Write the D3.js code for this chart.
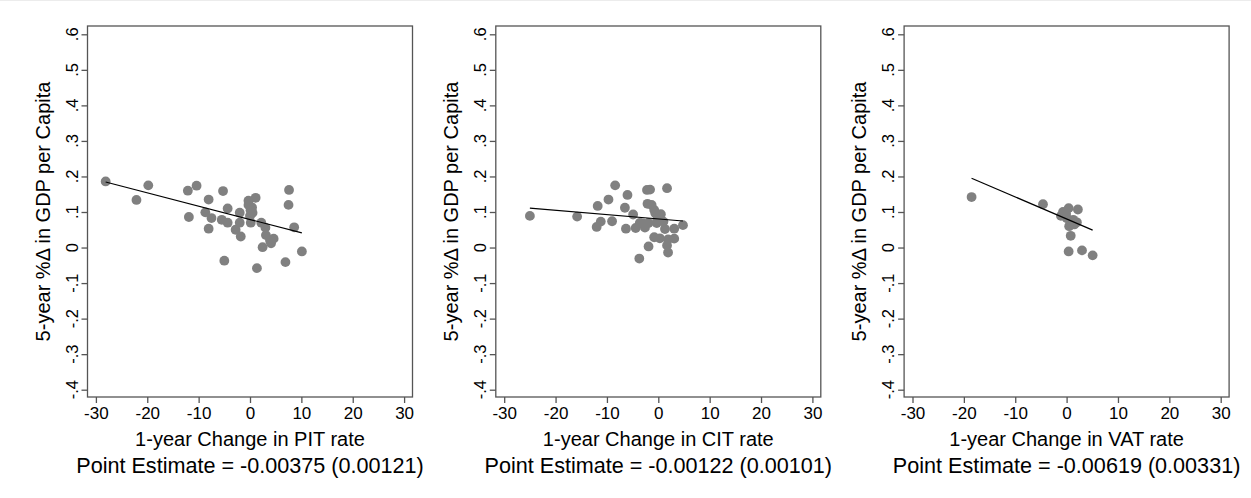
<!DOCTYPE html>
<html>
<head>
<meta charset="utf-8">
<script src="https://cdn.jsdelivr.net/npm/d3@7"></script>
<style>
  html, body { margin: 0; padding: 0; background: #fff; }
  svg { display: block; font-family: "Liberation Sans", Arial, Helvetica, sans-serif; }
</style>
</head>
<body>
<svg id="chart" width="1251" height="498"></svg>
<script>
// Tax-rate changes (percentage points) vs 5-year GDP per capita growth
const pitX = [-28.1, -22.1, -19.8, -12.1, -10.4, -11.9, -8.05, -8.7, -8.05, -7.5, -5.25, -5.5, -4.35, -4.35, -5.0,
              -2.0, -2.0, -2.8, -1.8, -0.3, -0.3, 0.4, 0.5, 1.1, 0.0, 0.15, 2.2, 3.0, 3.1, 2.45, 4.1, 4.6, 1.35,
              6.9, 7.6, 7.5, 8.6, 10.1, 3.9, 0.1];
const pitY = [0.186, 0.134, 0.175, 0.160, 0.174, 0.086, 0.135, 0.099, 0.053, 0.083, 0.159, 0.078, 0.110, 0.070, -0.037,
              0.098, 0.070, 0.050, 0.031, 0.132, 0.120, 0.113, 0.098, 0.140, 0.089, 0.070, 0.070, 0.056, 0.035, 0.001, 0.012, 0.025, -0.058,
              -0.041, 0.162, 0.120, 0.057, -0.011, 0.020, 0.105];

const citX = [-25.0, -15.8, -11.8, -12.0, -11.2, -9.7, -8.4, -9.0, -6.0, -6.5, -6.3, -4.9, -4.4, -3.7, -3.6, -3.0, -2.6,
              -2.2, -1.6, -2.1, -1.3, -1.9, -0.8, -0.6, 0.5, -1.9, -0.3, -0.8, 0.3, -0.2, 1.0, 1.3, 1.7, 1.7, 1.9, 1.9,
              3.1, 3.1, 4.8];
const citY = [0.089, 0.087, 0.117, 0.058, 0.073, 0.135, 0.175, 0.074, 0.148, 0.112, 0.053, 0.093, 0.055, -0.031, 0.069, 0.068, 0.056,
              0.162, 0.163, 0.123, 0.120, 0.003, 0.106, 0.097, 0.094, 0.069, 0.069, 0.029, 0.026, 0.078, 0.073, 0.052, 0.167, 0.006, -0.014, 0.023,
              0.053, 0.025, 0.063];

const vatX = [-18.5, -4.6, -1.1, -0.7, 0.4, 2.2, 0.0, 0.7, 2.0, 0.5, 0.8, 0.4, 3.0, 5.07, 1.3, -0.1, 1.5];
const vatY = [0.142, 0.122, 0.089, 0.100, 0.111, 0.107, 0.083, 0.073, 0.071, 0.060, 0.033, -0.011, -0.008, -0.022, 0.078, 0.095, 0.065];

// Fitted OLS lines: slope from the reported point estimates
const taxNames   = ["PIT", "CIT", "VAT"];
const slopes     = [-0.00375, -0.00122, -0.00619];
const stdErrors  = ["0.00121", "0.00101", "0.00331"];
const intercepts = [0.079, 0.0805, 0.0805];

const xTicks = [-30, -20, -10, 0, 10, 20, 30];
const xTickLabels = ["-30", "-20", "-10", "0", "10", "20", "30"];
const yTicks = [-0.4, -0.3, -0.2, -0.1, 0, 0.1, 0.2, 0.3, 0.4, 0.5, 0.6];
const yTickLabels = ["-.4", "-.3", "-.2", "-.1", "0", ".1", ".2", ".3", ".4", ".5", ".6"];

const panels = [
  { xs: pitX, ys: pitY },
  { xs: citX, ys: citY },
  { xs: vatX, ys: vatY }
];

const svg = d3.select("#chart");
const frameW = 325, frameTop = 26, frameBottom = 397;
const panelStep = 408.3, firstLeft = 87.5;
const axisColor = "#555";
const dotColor = "#808080";

// faint rule along the top edge
svg.append("line").attr("x1", 0).attr("x2", 1251).attr("y1", 0.5).attr("y2", 0.5)
  .attr("stroke", "#ececec").attr("stroke-width", 1);

panels.forEach((p, i) => {
  const left = firstLeft + i * panelStep;
  const right = left + frameW;
  const x = d3.scaleLinear().domain([-30, 30]).range([left + 8.4, right - 8.4]);
  const y = d3.scaleLinear().domain([-0.4, 0.6]).range([389.7, 34.3]);
  const g = svg.append("g");

  // plot frame
  g.append("rect")
    .attr("x", left).attr("y", frameTop)
    .attr("width", frameW).attr("height", frameBottom - frameTop)
    .attr("fill", "none").attr("stroke", axisColor).attr("stroke-width", 1.3);

  // y axis ticks (labels rotated)
  const yAxis = d3.axisLeft(y).tickValues(yTicks).tickSize(6).tickFormat("");
  const ya = g.append("g").attr("transform", `translate(${left},0)`).call(yAxis);
  ya.select(".domain").remove();
  ya.selectAll(".tick line").attr("stroke", axisColor).attr("stroke-width", 1.3);
  yTicks.forEach((v, k) => {
    g.append("text")
      .attr("transform", `translate(${left - 10},${y(v)}) rotate(-90)`)
      .attr("text-anchor", "middle")
      .attr("font-size", 16.5).attr("fill", "#000")
      .text(yTickLabels[k]);
  });

  // x axis
  const xAxis = d3.axisBottom(x).tickValues(xTicks).tickSize(6)
    .tickFormat((d, k) => xTickLabels[k]);
  const xa = g.append("g").attr("transform", `translate(0,${frameBottom})`).call(xAxis);
  xa.select(".domain").remove();
  xa.selectAll(".tick line").attr("stroke", axisColor).attr("stroke-width", 1.3);
  xa.selectAll(".tick text")
    .attr("font-size", 17).attr("font-family", "Liberation Sans, Arial, sans-serif")
    .attr("fill", "#000").attr("dy", null).attr("y", 21.5);

  // points
  const pts = p.xs.map((v, k) => [v, p.ys[k]]);
  g.append("g").selectAll("circle").data(pts).join("circle")
    .attr("cx", d => x(d[0])).attr("cy", d => y(d[1])).attr("r", 4.9)
    .attr("fill", dotColor);

  // fitted line across the observed range
  const [x0, x1] = d3.extent(p.xs);
  const fit = v => intercepts[i] + slopes[i] * v;
  g.append("line")
    .attr("x1", x(x0)).attr("y1", y(fit(x0)))
    .attr("x2", x(x1)).attr("y2", y(fit(x1)))
    .attr("stroke", "#000").attr("stroke-width", 1.2);

  // titles
  const cx = left + frameW / 2;
  g.append("text")
    .attr("transform", `translate(${left - 38},${(frameTop + frameBottom) / 2}) rotate(-90)`)
    .attr("text-anchor", "middle").attr("font-size", 20).attr("fill", "#000")
    .text("5-year %\u0394 in GDP per Capita");
  g.append("text")
    .attr("x", cx).attr("y", 446)
    .attr("text-anchor", "middle").attr("font-size", 20).attr("fill", "#000")
    .text(`1-year Change in ${taxNames[i]} rate`);
  g.append("text")
    .attr("x", cx).attr("y", 473)
    .attr("text-anchor", "middle").attr("font-size", 21.6).attr("fill", "#000")
    .text(`Point Estimate = ${slopes[i].toFixed(5)} (${stdErrors[i]})`);
});
</script>
</body>
</html>
